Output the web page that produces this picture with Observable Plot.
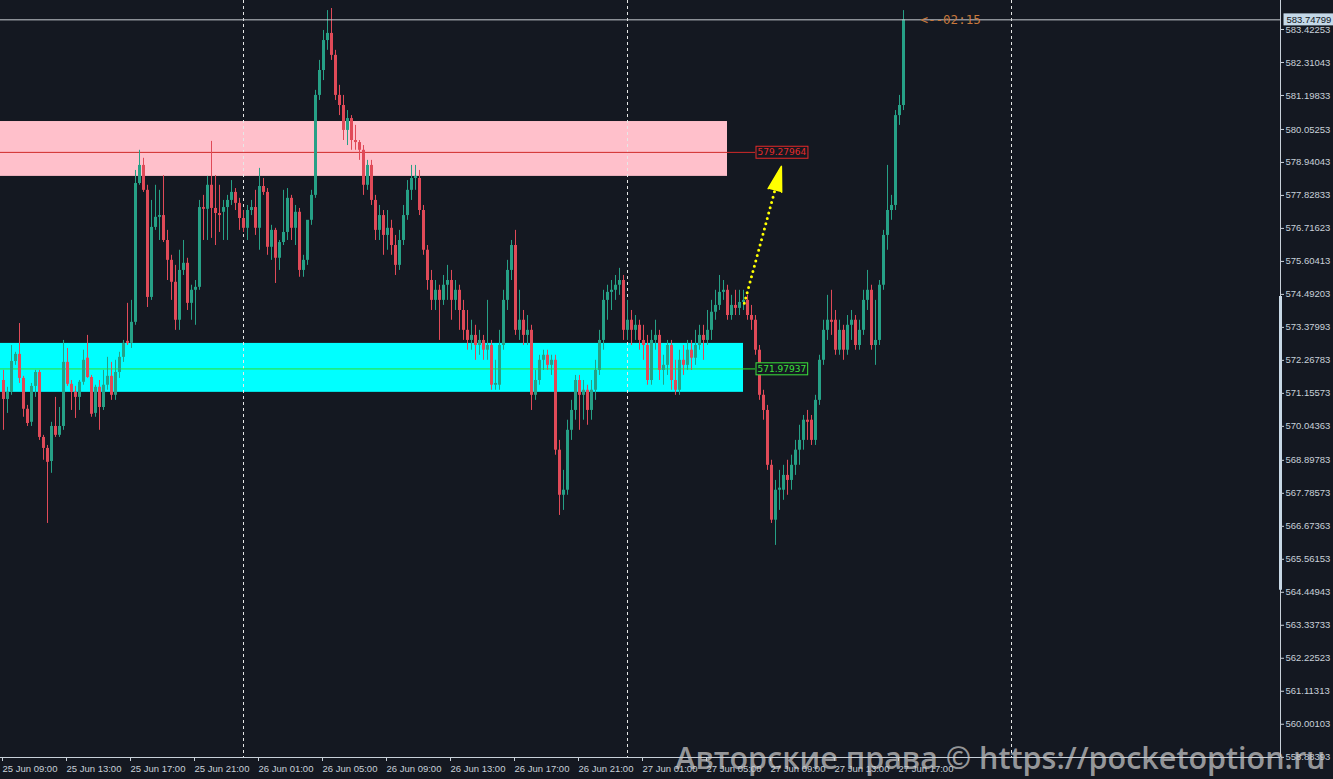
<!DOCTYPE html>
<html>
<head>
<meta charset="utf-8">
<script src="https://cdn.jsdelivr.net/npm/d3@7"></script>
<script src="https://cdn.jsdelivr.net/npm/@observablehq/plot@0.6"></script>
<style>
  html, body { margin: 0; padding: 0; background: #141821; }
  #chart { position: relative; width: 1333px; height: 779px; overflow: hidden; }
</style>
</head>
<body>
<div id="chart"></div>
<script>
// 15-minute bars, first bar 25 Jun 09:00
const firstBar = "2025-06-25T09:00:00Z";
const barMinutes = 15;

const open = [
  571.59,570.95,571.19,572.23,572.47,571.66,570.62,570.18,571.39,571.86,
  569.67,569.30,568.86,570.04,569.74,570.04,572.20,571.46,571.19,571.02,
  571.53,572.34,571.69,570.48,571.36,570.68,571.43,571.73,571.09,571.86,
  572.37,572.91,572.84,573.55,578.23,578.84,578.00,574.39,576.75,577.09,
  577.15,576.31,575.64,574.90,573.62,575.30,575.54,574.19,574.63,574.73,
  577.42,577.36,578.17,577.39,577.22,577.26,577.42,577.66,577.93,577.56,
  577.05,576.72,577.32,577.42,576.72,578.13,577.93,576.08,576.65,575.71,
  576.24,576.58,577.73,576.72,577.26,575.30,575.64,576.99,577.83,581.20,
  582.04,583.05,583.29,582.55,581.20,580.86,580.02,580.42,579.68,579.61,
  579.35,578.17,578.84,577.66,576.65,577.15,576.48,576.72,576.14,575.47,
  576.31,577.15,578.00,578.40,578.40,577.32,575.98,574.96,574.29,574.63,
  574.29,574.80,574.96,574.29,574.63,573.95,573.28,572.94,573.11,572.77,
  572.94,572.61,572.77,571.43,571.43,572.77,574.29,575.30,576.14,573.28,
  573.62,573.11,573.28,571.09,571.59,572.27,572.44,572.10,572.27,569.24,
  567.72,567.89,569.91,570.58,571.59,571.09,571.26,570.58,571.26,571.93,
  572.94,574.29,574.56,574.63,574.80,574.96,573.28,573.62,573.28,573.45,
  572.94,572.77,571.59,572.94,573.11,571.93,572.10,572.77,571.59,571.26,
  572.27,572.10,572.61,572.34,572.77,573.11,572.94,573.28,573.89,574.12,
  574.56,574.63,573.78,574.12,574.02,574.22,574.29,573.78,573.62,572.61,
  571.09,570.58,568.73,566.88,567.89,567.89,568.39,568.22,568.73,569.24,
  569.57,570.25,570.25,569.57,570.92,572.27,573.28,573.62,573.62,572.61,
  573.28,572.61,573.45,573.62,572.77,573.28,574.29,574.63,572.77,572.94,
  574.80,576.48,577.32,577.49,580.52,580.86
];
const high = [
  571.93,571.36,572.77,572.54,573.51,571.73,570.75,571.49,571.93,571.93,
  569.74,569.40,570.18,571.02,570.68,572.94,572.67,571.59,571.39,571.59,
  572.61,573.11,571.76,571.43,571.59,571.93,572.37,572.20,572.27,572.54,
  572.94,574.19,574.29,578.67,579.35,579.08,578.17,577.66,578.17,578.00,
  578.50,576.65,575.81,575.47,575.98,576.31,575.71,574.80,574.96,577.66,
  577.83,578.47,579.65,578.50,578.17,577.66,577.83,578.33,578.06,577.73,
  577.32,577.49,577.66,578.00,578.74,578.40,578.06,576.82,576.72,576.31,
  578.00,578.06,577.83,577.49,577.39,575.81,576.31,578.00,581.37,582.38,
  583.39,584.06,584.13,582.72,581.54,581.20,580.69,580.52,580.19,579.68,
  579.51,579.01,579.01,577.83,577.49,577.32,577.32,576.99,576.48,576.65,
  577.49,578.33,578.84,578.84,578.67,577.49,576.14,575.30,574.96,574.80,
  575.13,575.47,575.30,574.96,574.80,574.29,573.95,573.62,573.45,573.28,
  573.11,574.29,572.94,572.27,573.28,574.63,575.64,576.31,576.65,574.63,
  573.95,573.78,573.45,571.93,572.44,572.61,572.61,572.44,572.44,569.57,
  568.56,570.25,570.92,571.76,571.76,571.59,571.43,571.59,572.27,573.28,
  574.63,574.80,574.96,575.13,575.37,575.13,574.29,573.95,573.78,573.62,
  573.45,573.11,573.28,573.62,573.28,572.44,572.94,572.94,572.27,572.61,
  572.77,572.94,572.94,573.28,573.45,573.45,573.95,574.29,574.63,575.13,
  574.96,574.80,574.46,574.63,574.63,574.63,574.46,574.12,573.78,572.77,
  571.26,570.75,568.90,568.22,568.56,568.73,568.90,569.07,569.57,570.08,
  570.41,570.58,570.41,571.09,572.44,573.62,574.46,574.63,573.95,573.62,
  573.45,573.78,573.95,573.78,573.62,574.63,575.30,574.80,574.29,574.96,
  576.65,578.84,577.83,580.69,581.20,584.06
];
const low = [
  569.91,570.48,571.09,572.10,571.49,570.35,570.04,570.04,571.02,569.57,
  568.90,566.77,568.46,569.67,569.67,569.91,571.39,570.58,570.31,570.58,
  571.43,571.66,570.35,570.35,569.91,570.58,571.26,570.92,570.92,571.66,
  572.20,572.77,572.67,573.45,578.17,577.93,574.05,574.29,576.65,576.31,
  576.24,574.96,574.29,573.28,573.28,575.13,573.95,573.62,573.45,574.63,
  576.31,576.31,576.38,576.14,576.58,576.31,576.31,577.49,577.32,576.65,
  576.58,576.31,577.15,576.48,575.98,577.83,575.81,575.64,574.86,575.30,
  576.14,576.31,576.31,576.14,575.07,575.07,575.47,576.82,577.73,581.03,
  581.70,582.72,582.38,581.03,580.52,579.68,579.51,579.35,579.35,579.01,
  577.83,578.00,577.49,576.31,576.31,575.81,575.98,575.81,575.13,575.30,
  576.14,576.99,577.66,578.00,577.15,575.81,574.63,573.95,573.95,572.94,
  574.12,574.29,573.62,573.95,573.28,572.94,572.61,572.61,572.27,572.44,
  572.27,572.27,571.26,571.26,571.26,572.61,573.95,574.96,573.11,572.94,
  572.77,572.77,570.58,570.92,571.43,571.93,571.93,571.76,569.07,567.04,
  567.21,567.72,569.57,570.25,569.91,570.25,570.08,570.25,570.92,571.76,
  572.61,573.62,573.95,574.29,574.46,572.94,572.94,572.77,572.94,572.61,
  572.27,571.43,571.43,572.61,571.59,571.43,571.76,571.26,571.09,571.09,
  571.76,571.93,571.93,572.10,572.61,572.27,572.77,572.94,573.62,573.95,
  574.29,573.62,573.62,573.78,573.78,573.95,573.62,573.28,572.44,570.92,
  570.25,568.56,566.77,566.03,567.21,567.55,567.72,567.89,568.39,568.73,
  569.24,569.57,569.40,569.40,570.75,572.10,572.94,573.11,572.44,572.44,
  572.27,572.44,572.94,572.61,572.61,573.11,573.95,572.61,572.10,572.77,
  574.63,575.98,576.99,577.32,580.19,580.69
];
const close = [
  570.95,571.19,572.23,572.47,571.66,570.62,570.14,571.39,571.86,569.67,
  569.30,568.83,570.04,569.74,570.04,572.20,571.46,571.19,571.02,571.53,
  572.27,571.69,570.45,571.36,570.68,571.43,571.73,571.09,571.86,572.37,
  572.84,572.84,573.55,578.23,578.84,578.00,574.39,576.75,577.09,577.15,
  576.31,575.64,574.90,573.62,575.30,575.54,574.19,574.63,574.73,577.42,
  577.36,578.17,577.39,577.22,577.15,577.42,577.66,577.93,577.56,577.05,
  576.72,577.32,577.42,576.72,578.13,577.93,576.08,576.65,575.71,576.24,
  576.58,577.73,576.72,577.26,575.30,575.64,576.99,577.83,581.20,582.04,
  583.05,583.29,582.55,581.20,580.86,580.02,580.42,579.68,579.61,579.35,
  578.17,578.84,577.66,576.65,577.15,576.48,576.72,576.14,575.47,576.31,
  577.15,578.00,578.40,578.47,577.32,575.98,574.96,574.29,574.63,574.29,
  574.80,574.96,574.29,574.63,573.95,573.28,572.94,573.11,572.77,572.94,
  572.61,572.77,571.43,571.49,572.77,574.29,575.30,576.14,573.28,573.62,
  573.11,573.28,571.09,571.59,572.27,572.44,572.10,572.27,569.24,567.72,
  567.89,569.91,570.58,571.59,571.09,571.26,570.58,571.26,571.93,572.94,
  574.29,574.56,574.63,574.80,574.96,573.28,573.62,573.28,573.45,572.94,
  572.77,571.59,572.94,573.11,571.93,572.10,572.77,571.59,571.26,572.27,
  572.10,572.61,572.34,572.77,573.11,572.94,573.28,573.89,574.12,574.56,
  574.63,573.78,574.12,574.02,574.22,574.29,573.78,573.62,572.61,571.09,
  570.58,568.73,566.88,567.89,567.96,568.39,568.22,568.73,569.24,569.57,
  570.25,570.18,569.57,570.92,572.27,573.28,573.62,573.55,572.61,573.28,
  572.61,573.45,573.62,572.77,573.28,574.29,574.63,572.77,572.94,574.80,
  576.48,577.32,577.49,580.52,580.86,583.74799
];

// Horizontal levels and zones
const resistanceLevel = 579.27964;
const supportLevel = 571.97937;
const resistanceZone = [578.47, 580.32];
const supportZone = [571.19, 572.84];
const resistanceZoneEnd = "2025-06-27T06:15:00Z";
const supportZoneEnd = "2025-06-27T07:15:00Z";
const levelLabelTime = "2025-06-27T08:00:00Z";
const currentPrice = 583.74799;
const timerText = "<--02:15";

// Projection arrow (time, price)
const arrowStart = ["2025-06-27T07:18:00Z", 574.19];
const arrowTip = ["2025-06-27T09:37:00Z", 578.81];

// Price scale marker on the right axis
const priceRangeMarker = [574.42, 564.52];

// Axis ticks
const yTickValues = [583.42253,582.31043,581.19833,580.05253,578.94043,577.82833,576.71623,
  575.60413,574.49203,573.37993,572.26783,571.15573,570.04363,568.89783,567.78573,566.67363,
  565.56153,564.44943,563.33733,562.22523,561.11313,560.00103,558.88393];
const yTickLabels = ["583.42253","582.31043","581.19833","580.05253","578.94043","577.82833","576.71623",
  "575.60413","574.49203","573.37993","572.26783","571.15573","570.04363","568.89783","567.78573","566.67363",
  "565.56153","564.44943","563.33733","562.22523","561.11313","560.00103","558.88393"];
const xTickLabels = ["25 Jun 09:00","25 Jun 13:00","25 Jun 17:00","25 Jun 21:00","26 Jun 01:00",
  "26 Jun 05:00","26 Jun 09:00","26 Jun 13:00","26 Jun 17:00","26 Jun 21:00","27 Jun 01:00",
  "27 Jun 05:00","27 Jun 09:00","27 Jun 13:00","27 Jun 17:00"];
const daySeparators = ["2025-06-26T00:00:00Z","2025-06-27T00:00:00Z","2025-06-28T00:00:00Z"];
const watermark = "Авторские права © https://pocketoption.ru";

// ---- build ----
const t0 = new Date(firstBar);
const bars = open.map((o, i) => ({
  time: d3.utcMinute.offset(t0, barMinutes * i),
  open: o, high: high[i], low: low[i], close: close[i]
}));
const bull = bars.filter(d => d.close >= d.open);
const bear = bars.filter(d => d.close < d.open);
const lastBar = bars[bars.length - 1];

const parseTick = d3.utcParse("%d %b %H:%M %Y");
const xTicks = xTickLabels.map(s => parseTick(s + " 2025"));
const xLabelOf = new Map(xTicks.map((d, i) => [+d, xTickLabels[i]]));
const yLabelOf = new Map(yTickValues.map((v, i) => [v, yTickLabels[i]]));

// 16 px per hour, 1280 px wide plot frame
const xStart = new Date(+t0 - 11.25 * 60 * 1000);
const xEnd = new Date(+xStart + 80 * 3600 * 1000);

const BG = "#141821", UP = "#26a086", DOWN = "#e04a58", AXIS = "#c8d0d9";
const fontAxis = "'Liberation Sans', Arial, sans-serif";
const fontLabel = "'DejaVu Sans', Verdana, sans-serif";
const fontMono = "'DejaVu Sans Mono', 'Liberation Mono', monospace";

const plot = Plot.plot({
  width: 1333,
  height: 779,
  marginLeft: 0,
  marginRight: 53,
  marginTop: 0,
  marginBottom: 22,
  x: {type: "utc", domain: [xStart, xEnd]},
  y: {domain: [558.88, 584.3998]},
  style: {background: BG, color: AXIS, fontFamily: fontAxis, fontSize: "9.5px", overflow: "visible"},
  marks: [
    // zones
    Plot.rect([resistanceZone], {x1: () => xStart, x2: () => new Date(resistanceZoneEnd), y1: d => d[0], y2: d => d[1], fill: "#ffc0cb"}),
    Plot.rect([supportZone], {x1: () => xStart, x2: () => new Date(supportZoneEnd), y1: d => d[0], y2: d => d[1], fill: "#00ffff"}),
    // day separators
    Plot.ruleX(daySeparators, {x: d => new Date(d), stroke: "#e6e6e6", strokeDasharray: "3,3"}),
    // level lines
    Plot.ruleY([resistanceLevel], {y: d => d, x1: () => xStart, x2: () => new Date(levelLabelTime), stroke: "#d02828"}),
    Plot.ruleY([supportLevel], {y: d => d, x1: () => xStart, x2: () => new Date(levelLabelTime), stroke: "#30e030"}),
    // candles
    Plot.ruleX(bull, {x: "time", y1: "low", y2: "high", stroke: UP}),
    Plot.ruleX(bear, {x: "time", y1: "low", y2: "high", stroke: DOWN}),
    Plot.ruleX(bull, {x: "time", y1: "open", y2: "close", stroke: UP, strokeWidth: 3}),
    Plot.ruleX(bear, {x: "time", y1: "open", y2: "close", stroke: DOWN, strokeWidth: 3}),
    // current price
    Plot.ruleY([currentPrice], {stroke: "#c8ccd2"}),
    // level labels
    Plot.text([resistanceLevel], {x: () => new Date(levelLabelTime), y: d => d, text: d => d.toFixed(5), dx: 2, textAnchor: "start", fill: "#e42a2a", fontFamily: fontLabel, fontSize: 9}),
    Plot.text([supportLevel], {x: () => new Date(levelLabelTime), y: d => d, text: d => d.toFixed(5), dx: 2, textAnchor: "start", fill: "#3ce03c", fontFamily: fontLabel, fontSize: 9}),
    // projection arrow
    Plot.link([[arrowStart, arrowTip]], {x1: d => new Date(d[0][0]), y1: d => d[0][1], x2: d => new Date(d[1][0]), y2: d => d[1][1], stroke: "#ffff00", strokeWidth: 3, strokeDasharray: "0,5.5", strokeLinecap: "round"}),
    Plot.vector([arrowTip], {x: d => new Date(d[0]), y: d => d[1], length: 25, rotate: 15, shape: "spike", r: 7, anchor: "end", fill: "#ffff00", stroke: "#ffff00"}),
    // bar timer
    Plot.text([lastBar], {x: "time", y: "close", text: () => timerText, dx: 17, textAnchor: "start", fill: "#c8783c", fontFamily: fontMono, fontSize: 12.5}),
    // frame lines
    Plot.ruleY([558.88], {stroke: AXIS}),
    Plot.ruleX([xEnd], {stroke: AXIS}),
    Plot.ruleX([xEnd], {y1: priceRangeMarker[0], y2: priceRangeMarker[1], stroke: "#c8d8e6", strokeWidth: 3}),
    // axes
    Plot.axisY({anchor: "right", ticks: yTickValues, tickFormat: d => yLabelOf.get(d), tickSize: 3, tickPadding: 2, fontSize: 9.5, color: AXIS}),
    Plot.axisX({anchor: "bottom", ticks: xTicks, tickFormat: d => xLabelOf.get(+d), tickSize: 4, tickPadding: 4, textAnchor: "start", dx: -1, fontSize: 9.5, color: AXIS}),
    // current price tag
    Plot.text([currentPrice], {frameAnchor: "right", y: d => d, text: d => d.toFixed(5), dx: 6, textAnchor: "start", fill: "#101520", fontSize: 9.5}),
    // watermark
    Plot.text([watermark], {frameAnchor: "bottom-right", text: d => d, dx: 45, dy: 11, textAnchor: "end", lineAnchor: "bottom", fontSize: 30.5, fontWeight: 600, fill: "#cfcfcf", fillOpacity: 0.7, fontFamily: "'Open Sans', 'Liberation Sans', Arial, sans-serif"})
  ]
});

document.getElementById("chart").append(plot);

// boxes behind labels
const NS = "http://www.w3.org/2000/svg";
function boxText(str, fill, stroke, padX, padY) {
  plot.querySelectorAll("text").forEach(t => {
    if (t.textContent !== str) return;
    const b = t.getBBox();
    const r = document.createElementNS(NS, "rect");
    r.setAttribute("x", b.x - padX);
    r.setAttribute("y", b.y - padY);
    r.setAttribute("width", b.width + 2 * padX);
    r.setAttribute("height", b.height + 2 * padY);
    r.setAttribute("fill", fill);
    r.setAttribute("stroke", stroke);
    const tr = t.getAttribute("transform");
    if (tr) r.setAttribute("transform", tr);
    t.parentNode.insertBefore(r, t);
  });
}
boxText(resistanceLevel.toFixed(5), BG, "#e42a2a", 1.5, 1);
boxText(supportLevel.toFixed(5), BG, "#3ce03c", 1.5, 1);
boxText(currentPrice.toFixed(5), "#c4d8e8", "none", 3, 0.5);
</script>
</body>
</html>
